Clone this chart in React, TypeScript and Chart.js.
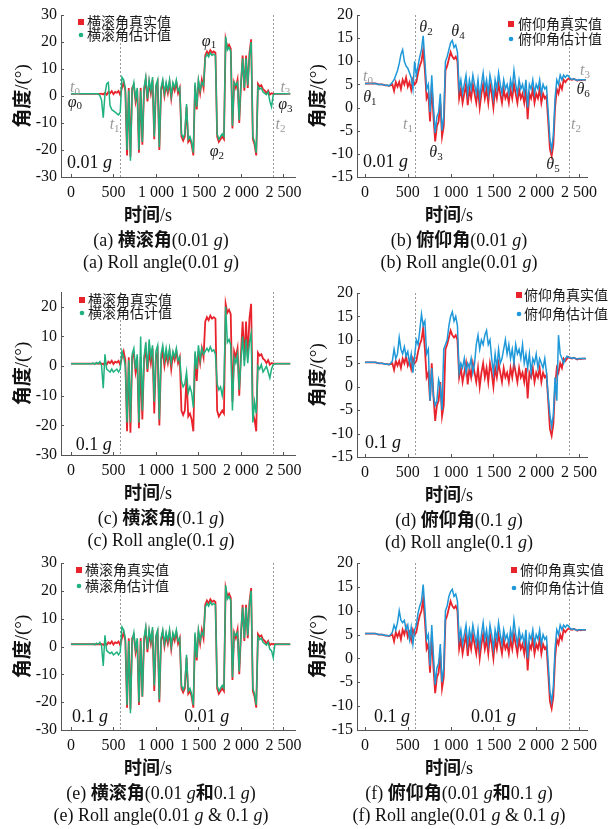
import React, { useEffect, useRef } from 'react';
import { Chart, registerables } from 'chart.js';

Chart.register(...registerables);

// ---------- data ----------
const STEP = 20; // s between samples
const times: number[] = Array.from({ length: 130 }, (_, i) => i * STEP);

const xTickValues = [0, 500, 1000, 1500, 2000, 2500];
const xTickLabels = ['0', '500', '1 000', '1 500', '2 000', '2 500'];
const rollTicks = [-30, -20, -10, 0, 10, 20, 30];
const rollTicksShort = [-30, -20, -10, 0, 10, 20];
const pitchTicks = [-15, -10, -5, 0, 5, 10, 15, 20];
const markerTimes = [580, 2380];

const rollTrue = [
  0.8, 0.8, 0.8, 0.8, 0.8, 0.8, 0.8, 0.8, 0.8, 0.8,
  0.8, 0.8, 0.8, 0.8, 0.8, 0.8, 0.8, 0.8, 0.9, 0.6,
  1.2, 0.5, 1.5, 1.0, 1.8, 0.7, 1.5, 1.2, 1.8, 0.4,
  3, 5, 2, -22, 3, -22.5, 3, 4, -2, 2,
  -21, 3, -18, 2, 6, -2, 5, 1, 6, -16,
  3, 5, -20, 2, 5, 0, 4, 1, 5, -1,
  4, 2, 5, 1, 3, -15, -16.5, -15, -4, -17,
  -16, -18, -22, 4, -5, 5, 1, 6, 3, 15,
  16.5, 15.5, 17, 16, 16.5, 16, -15, -17, -16, -15,
  -16, 21, 18, 19, 17.5, -12, 5, 3, 6, -10,
  4, 15, 2, 15, 3, 16, 21, -16, -18, -22,
  4.5, 3.5, 4, 2.5, 2, 1, 2, 0.5, 1, 0.8,
  0.8, 0.8, 0.8, 0.8, 0.8, 0.8, 0.8, 0.8, 0.8, 0.8,
];

const rollEst001 = [
  0.8, 0.8, 0.8, 0.8, 0.8, 0.8, 0.8, 0.8, 0.8, 0.8,
  0.8, 0.8, 0.8, 0.8, 0.8, 0.8, 0.8, 0.2, -1.5, -8,
  0.5, 4.5, 5, -3.5, -5, -5.5, -6, -6.5, -7, -6,
  7, 6, 3, -20, 2, -24, 2, 5, -1, 3,
  -20, 2, -17, 3, 7, -1, 6, 2, 7, -15,
  4, 6, -19, 3, 6, 1, 5, 2, 6, 0,
  5, 3, 6, 2, 3, -14, -15.5, -14, -3, -16,
  -15, -17, -21, 5, -4, 6, 2, 5, 4, 14,
  15.5, 14.5, 16, 15, 15.5, 15, -14, -16, -15, -14,
  -15, 22, 17, 18, 16.5, -11, 5, 4, 5, -9,
  5, 14, 3, 14, 4, 15, 20, -15, -17, -21,
  3.5, 2.5, 3, 1.5, 1, 0.5, 1.5, -2, -4, 0.5,
  0.8, 0.8, 0.8, 0.8, 0.8, 0.8, 0.8, 0.8, 0.8, 0.8,
];

const rollEst01 = [
  0.8, 0.8, 0.8, 0.8, 0.8, 0.8, 0.8, 0.8, 0.8, 0.8,
  0.8, 0.8, 0.8, 1.0, 0.6, 1.2, 0.8, 1.5, 0.2, -7.5,
  4, -1, -1.5, -2, -1, -2, -1.5, -1, -2, -1,
  5, 3, 0, -19, 2, -19, 4, 6, -1, 4,
  -19, 10, -15, 3, 8, -1, 9, 3, 7, -12,
  5, 7, -18, 4, 7, 2, 6, 2, 6, 1,
  5, 3, 6, 2, 3, -5, -7, -6, -2, -9,
  -7, -9, -14, 5, -1, 7, 2, 6, 4, 5,
  6, 5, 6.5, 5, 5.5, 4, -6, -8, -7, -10,
  -6, 20, 8, 9, 7, -15, 3, 1, 4, -8,
  2, 10, 0, 9, 1, 8, 11, -19, -12, -16,
  0, -1, 0.5, -2, -1, 0, -2, -4, -1, 0.5,
  0.8, 0.8, 0.8, 0.8, 0.8, 0.8, 0.8, 0.8, 0.8, 0.8,
];

const rollEstMix = [
  0.8, 0.8, 0.8, 0.8, 0.8, 0.8, 0.8, 0.8, 0.8, 0.8,
  0.8, 0.8, 0.8, 1.0, 0.6, 1.2, 0.8, 1.5, 0.3, -7,
  4, -1.5, -2, -2.5, -2, -3, -2.5, -2, -3, -2,
  7, 6, 3, -21, 2, -24, 2, 5, -1, 3,
  -20, 2, -18, 3, 7, -1, 6, 2, 7, -14,
  4, 6, -19, 3, 6, 1, 5, 2, 6, 0,
  5, 3, 6, 2, 3, -14, -15.5, -14, -3, -16,
  -15, -17, -21, 5, -4, 6, 2, 5, 4, 14,
  15.5, 14.5, 16, 15, 15.5, 15, -14, -16, -15, -14,
  -15, 22, 17, 18, 16.5, -11, 5, 4, 5, -9,
  5, 14, 3, 14, 4, 15, 20, -15, -17, -21,
  3.5, 2.5, 3, 1.5, 1, 0.5, 1.5, -1, -1.5, -4,
  0.8, 0.8, 0.8, 0.8, 0.8, 0.8, 0.8, 0.8, 0.8, 0.8,
];

const pitchTrue = [
  5.2, 5.2, 5.2, 5.2, 5.2, 5.2, 5.2, 5.1, 5.0, 5.0,
  5.0, 4.9, 4.8, 4.8, 4.7, 4.8, 5.0, 3.6, 5.5, 4.5,
  5.5, 4.0, 6.0, 5.0, 6.5, 4.5, 5.5, 3.8, 6.0, 5.0,
  5.5, 7.5, 9, 10, 12.5, 8, 2, 3, -3, 5,
  -2, -7.3, -4, -3, 1, -6.3, -4, 8, 9, 10.5,
  12, 11, 10.5, 11, 10, 2, 4, 1, 3, 5,
  0.5, 4, 2, 5, 3, 1, 4, 0, 3, 5,
  2, 4, 1, 5, 3, 0, 4, 2, 5, 3,
  1, 4, 2, 3, 1, 4, 2, 5, 3, 1,
  4, 2, 3, 1, 4, -2.5, 3, 2, 4, 1,
  3, 2, 4, 1, 3, 2, 2.5, -3, -9, -10.5,
  -8, 0, 4, 3, 5, 4, 6, 5.5, 6, 6.3,
  6.1, 6.0, 6.2, 6.0, 5.8, 6.0, 5.9, 6.0, 6.0, 6.0,
];

const pitchEst001 = [
  5.2, 5.2, 5.2, 5.2, 5.2, 5.2, 5.2, 5.1, 5.0, 5.0,
  5.0, 4.9, 4.8, 4.8, 4.7, 5.0, 5.5, 6.0, 7.0, 8.0,
  9.5, 11.5, 12.5, 10, 9, 8.5, 7.5, 6.5, 4, 10,
  7, 9, 11, 12.5, 15.5, 10, 4, 5, -1, 7,
  0, -5.5, -2, -1, 3, -5, -2, 10, 11, 12.5,
  14, 14.5, 13, 13.5, 12, 4, 6, 3, 5, 7,
  3, 6, 4, 7, 5, 3, 6, 2, 5, 7.5,
  4, 6, 3, 7, 5, 2, 6, 4, 7.5, 5,
  3, 6, 4, 5, 3, 6, 4, 8, 5, 3,
  6, 4, 5, 3, 6, 0, 5, 4, 6, 3,
  5, 4, 6, 3, 5, 4, 4.5, -1, -7, -9,
  -6, 2, 6, 5, 7, 6, 7, 6.5, 7, 6.8,
  6.2, 6.1, 6.2, 6.0, 5.9, 6.0, 6.0, 6.0, 6.0, 6.0,
];

const pitchEst01 = [
  5.2, 5.2, 5.2, 5.2, 5.2, 5.2, 5.2, 5.1, 5.0, 5.0,
  5.0, 4.9, 4.8, 4.8, 4.7, 5.0, 5.5, 8.0, 6.0, 7.0,
  10.5, 8, 7, 8.5, 6.5, 7.5, 5, 7, 3, 6.5,
  10, 9, 12, 15.5, 13, 14, 7, 8, -3, 4,
  -2, -4, -3, 1.5, 0, -5, 8, 9, 10, 13,
  15, 16, 14, 15, 13, 3, 5, 4, 6, 3,
  5, 4, 6, 3, 5, 9, 11, 8, 10, 9,
  11, 12, 9, 10, 6, 3, 7, 4, 8, 5,
  6, 8, 10, 7, 9, 6, 8, 5, 9, 7,
  8, 6, 9, 5, 7, 4, 7, 3, 6, 5,
  7, 4, 6, 5, 4, 6, 3, -2, -6, -8.5,
  -6, 2, -3, 11, 7, 6, 5, 6, 6.5, 6.3,
  6.2, 6.1, 6.2, 6.0, 5.9, 6.0, 6.0, 6.0, 6.0, 6.0,
];

const pitchEstMix = [
  5.2, 5.2, 5.2, 5.2, 5.2, 5.2, 5.2, 5.1, 5.0, 5.0,
  5.0, 4.9, 4.8, 4.8, 4.7, 5.0, 5.5, 7.0, 6.0, 7.5,
  10, 8, 7.5, 8, 6, 7, 4, 6.5, 3, 6,
  7, 9.5, 11, 12, 15.5, 10.5, 4, 5, -1.5, 7,
  0.5, -5.5, -2, -1, 3, -5, -2, 10, 11, 13,
  14, 14.5, 13, 13.5, 12, 4, 6, 3, 5, 7,
  3, 6, 4, 7, 5, 3, 6, 2, 5, 7.5,
  4, 6, 3, 7, 5, 2, 6, 4, 7.5, 5,
  3, 6, 4, 5, 3, 6, 4, 8, 5, 3,
  6, 4, 5, 3, 6, 0, 5, 4, 6, 3,
  5, 4, 6, 3, 5, 4, 4.5, -1, -7, -9,
  -6, 2, 6, 5, 7, 6, 7, 6.5, 7, 6.8,
  6.2, 6.1, 6.2, 6.0, 5.9, 6.0, 6.0, 6.0, 6.0, 6.0,
];

// ---------- style ----------
const SERIF = '"Liberation Serif", "Times New Roman", serif';
const CJK = '"Noto Sans CJK SC", sans-serif';
const RED = '#e8232b';
const GREEN = '#1fb27e';
const BLUE = '#1e98d8';
const GRAY = '#9a9a9a';
const AXIS = '#555555';

type Ann = { t: number; v: number; main: string; sub: string; gray?: boolean };
type GLab = { t: number; v: number; text: string };
type Legend = { mx: number; y1: number; y2: number; tx: number };
type PanelCfg = {
  col: number; T: number; B: number; ymin: number; ymax: number; yTicks: number[];
  trueData: number[]; estData: number[]; estColor: string; trueLabel: string; estLabel: string;
  legend: Legend; anns: Ann[]; gLabels: GLab[];
};

const COLS = [
  { x0: 0, L: 61, R: 297, xmin: -117, xmax: 2640, titleX: 22, capX: 161, axisTitleX: 148 },
  { x0: 308, L: 357, R: 587, xmin: -93, xmax: 2593, titleX: 317, capX: 459, axisTitleX: 449 },
];

const annA: Ann[] = [
  { t: 47, v: 3.0, main: 't', sub: '0', gray: true },
  { t: 47, v: -2.4, main: 'φ', sub: '0' },
  { t: 514, v: -10.7, main: 't', sub: '1', gray: true },
  { t: 1624, v: 20.2, main: 'φ', sub: '1' },
  { t: 1717, v: -20.7, main: 'φ', sub: '2' },
  { t: 2465, v: -10.7, main: 't', sub: '2', gray: true },
  { t: 2523, v: 3.0, main: 't', sub: '3', gray: true },
  { t: 2523, v: -3.3, main: 'φ', sub: '3' },
];
const annB: Ann[] = [
  { t: 35, v: 6.6, main: 't', sub: '0', gray: true },
  { t: 58, v: 2.1, main: 'θ', sub: '1' },
  { t: 713, v: 17.2, main: 'θ', sub: '2' },
  { t: 1086, v: 16.3, main: 'θ', sub: '4' },
  { t: 830, v: -9.8, main: 'θ', sub: '3' },
  { t: 2196, v: -12.4, main: 'θ', sub: '5' },
  { t: 502, v: -3.8, main: 't', sub: '1', gray: true },
  { t: 2465, v: -3.8, main: 't', sub: '2', gray: true },
  { t: 2570, v: 7.9, main: 't', sub: '3', gray: true },
  { t: 2547, v: 3.8, main: 'θ', sub: '6' },
];

const panels: PanelCfg[] = [
  { col: 0, T: 15, B: 177, ymin: -30, ymax: 30, yTicks: rollTicks, trueData: rollTrue, estData: rollEst001, estColor: GREEN,
    trueLabel: '横滚角真实值', estLabel: '横滚角估计值', legend: { mx: 81, y1: 22, y2: 35, tx: 87 }, anns: annA,
    gLabels: [{ t: -47, v: -26.7, text: '0.01' }] },
  { col: 1, T: 15, B: 177, ymin: -15, ymax: 20, yTicks: pitchTicks, trueData: pitchTrue, estData: pitchEst001, estColor: BLUE,
    trueLabel: '俯仰角真实值', estLabel: '俯仰角估计值', legend: { mx: 511, y1: 24, y2: 39, tx: 518 }, anns: annB,
    gLabels: [{ t: -23, v: -12.8, text: '0.01' }] },
  { col: 0, T: 292, B: 455, ymin: -30, ymax: 25, yTicks: rollTicksShort, trueData: rollTrue, estData: rollEst01, estColor: GREEN,
    trueLabel: '横滚角真实值', estLabel: '横滚角估计值', legend: { mx: 82, y1: 300, y2: 313, tx: 88 }, anns: [],
    gLabels: [{ t: 58, v: -28.3, text: '0.1' }] },
  { col: 1, T: 293, B: 457, ymin: -15, ymax: 20, yTicks: pitchTicks, trueData: pitchTrue, estData: pitchEst01, estColor: BLUE,
    trueLabel: '俯仰角真实值', estLabel: '俯仰角估计值', legend: { mx: 519, y1: 295, y2: 314, tx: 524 }, anns: [],
    gLabels: [{ t: 0, v: -13.1, text: '0.1' }] },
  { col: 0, T: 563, B: 730, ymin: -30, ymax: 30, yTicks: rollTicks, trueData: rollTrue, estData: rollEstMix, estColor: GREEN,
    trueLabel: '横滚角真实值', estLabel: '横滚角估计值', legend: { mx: 79, y1: 570, y2: 586, tx: 85 }, anns: [],
    gLabels: [{ t: 12, v: -27.1, text: '0.1' }, { t: 1332, v: -27.1, text: '0.01' }] },
  { col: 1, T: 563, B: 730, ymin: -15, ymax: 20, yTicks: pitchTicks, trueData: pitchTrue, estData: pitchEstMix, estColor: BLUE,
    trueLabel: '俯仰角真实值', estLabel: '俯仰角估计值', legend: { mx: 514, y1: 570, y2: 588, tx: 520 }, anns: [],
    gLabels: [{ t: 105, v: -13.3, text: '0.1' }, { t: 1238, v: -13.3, text: '0.01' }] },
];

const captions = [
  { letter: 'a', cn: '横滚角', par: '0.01' },
  { letter: 'b', cn: '俯仰角', par: '0.01' },
  { letter: 'c', cn: '横滚角', par: '0.1' },
  { letter: 'd', cn: '俯仰角', par: '0.1' },
  { letter: 'e', cn: '横滚角', par: 'mix' },
  { letter: 'f', cn: '俯仰角', par: 'mix' },
];

const TOP_PAD = 15;
const XAXIS_H = 28;

function Panel({ cfg }: { cfg: PanelCfg }) {
  const ref = useRef<HTMLCanvasElement>(null);
  const col = COLS[cfg.col];
  const y0 = cfg.T - TOP_PAD;
  const h = cfg.B - y0 + XAXIS_H;

  useEffect(() => {
    const canvas = ref.current;
    if (!canvas) return;
    const deco = {
      id: 'deco',
      beforeDatasetsDraw(chart: any) {
        const ctx = chart.ctx;
        const xs = chart.scales.x;
        const a = chart.chartArea;
        ctx.save();
        ctx.strokeStyle = GRAY;
        ctx.lineWidth = 1;
        ctx.setLineDash([2, 2]);
        markerTimes.forEach((t) => {
          const px = Math.round(xs.getPixelForValue(t)) + 0.5;
          ctx.beginPath();
          ctx.moveTo(px, a.top);
          ctx.lineTo(px, a.bottom);
          ctx.stroke();
        });
        ctx.restore();
      },
      afterDraw(chart: any) {
        const ctx = chart.ctx;
        const xs = chart.scales.x;
        const ys = chart.scales.y;
        const a = chart.chartArea;
        ctx.save();
        // inward ticks
        ctx.strokeStyle = AXIS;
        ctx.lineWidth = 1;
        xTickValues.forEach((v) => {
          const px = Math.round(xs.getPixelForValue(v)) + 0.5;
          ctx.beginPath();
          ctx.moveTo(px, a.bottom);
          ctx.lineTo(px, a.bottom - 3);
          ctx.stroke();
        });
        cfg.yTicks.forEach((v) => {
          const py = Math.round(ys.getPixelForValue(v)) + 0.5;
          ctx.beginPath();
          ctx.moveTo(a.left, py);
          ctx.lineTo(a.left + 3, py);
          ctx.stroke();
        });
        // legend
        const lg = cfg.legend;
        ctx.fillStyle = RED;
        ctx.fillRect(lg.mx - col.x0 - 3, lg.y1 - y0 - 3, 6, 6);
        ctx.fillStyle = cfg.estColor;
        ctx.beginPath();
        ctx.arc(lg.mx - col.x0, lg.y2 - y0, 2.3, 0, Math.PI * 2);
        ctx.fill();
        ctx.fillStyle = '#1a1a1a';
        ctx.font = `14px ${CJK}`;
        ctx.textAlign = 'left';
        ctx.textBaseline = 'middle';
        ctx.fillText(cfg.trueLabel, lg.tx - col.x0, lg.y1 - y0);
        ctx.fillText(cfg.estLabel, lg.tx - col.x0, lg.y2 - y0);
        // annotations
        cfg.anns.forEach((an) => {
          const x = xs.getPixelForValue(an.t);
          const y = ys.getPixelForValue(an.v);
          const fMain = `italic 16px ${SERIF}`;
          const fSub = `11px ${SERIF}`;
          ctx.font = fMain;
          const wm = ctx.measureText(an.main).width;
          ctx.font = fSub;
          const ws = ctx.measureText(an.sub).width;
          const sx = x - (wm + ws) / 2;
          ctx.fillStyle = an.gray ? GRAY : '#1a1a1a';
          ctx.textBaseline = 'middle';
          ctx.font = fMain;
          ctx.fillText(an.main, sx, y);
          ctx.font = fSub;
          ctx.fillText(an.sub, sx + wm, y + 4);
        });
        // g-level labels
        cfg.gLabels.forEach((gl) => {
          const x = xs.getPixelForValue(gl.t);
          const y = ys.getPixelForValue(gl.v);
          ctx.fillStyle = '#111';
          ctx.textBaseline = 'alphabetic';
          ctx.font = `18px ${SERIF}`;
          const txt = gl.text + ' ';
          ctx.fillText(txt, x, y);
          const w = ctx.measureText(txt).width;
          ctx.font = `italic 18px ${SERIF}`;
          ctx.fillText('g', x + w, y);
        });
        // y title
        ctx.translate(col.titleX - col.x0, (cfg.T + cfg.B) / 2 - y0);
        ctx.rotate(-Math.PI / 2);
        const p1 = '角度';
        const p2 = '/(°)';
        const f1 = `bold 19px ${CJK}`;
        const f2 = `19px ${SERIF}`;
        ctx.font = f1;
        const w1 = ctx.measureText(p1).width;
        ctx.font = f2;
        const w2 = ctx.measureText(p2).width;
        const st = -(w1 + w2) / 2;
        ctx.fillStyle = '#111';
        ctx.textBaseline = 'middle';
        ctx.font = f1;
        ctx.fillText(p1, st, 0);
        ctx.font = f2;
        ctx.fillText(p2, st + w1, 1);
        ctx.restore();
      },
    };

    const chart = new Chart(canvas, {
      type: 'line',
      data: {
        datasets: [
          {
            label: cfg.trueLabel,
            data: times.map((t, i) => ({ x: t, y: cfg.trueData[i] })),
            borderColor: RED,
            borderWidth: 1.8,
            pointRadius: 0,
            tension: 0,
            order: 2,
          },
          {
            label: cfg.estLabel,
            data: times.map((t, i) => ({ x: t, y: cfg.estData[i] })),
            borderColor: cfg.estColor,
            borderWidth: 1.5,
            pointRadius: 0,
            tension: 0,
            order: 1,
          },
        ],
      },
      options: {
        responsive: false,
        animation: false,
        events: [],
        layout: { padding: { left: 0, right: col.x0 + 308 - col.R, top: TOP_PAD, bottom: 0 } },
        plugins: { legend: { display: false }, tooltip: { enabled: false } },
        scales: {
          x: {
            type: 'linear',
            min: col.xmin,
            max: col.xmax,
            afterBuildTicks: (s: any) => { s.ticks = xTickValues.map((v) => ({ value: v })); },
            afterFit: (s: any) => { s.height = XAXIS_H; },
            grid: { display: false, drawTicks: false },
            border: { display: true, color: AXIS, width: 1 },
            ticks: {
              padding: 6,
              color: '#111',
              maxRotation: 0,
              autoSkip: false,
              font: { family: SERIF, size: 16 },
              callback: (v: any) => { const i = xTickValues.indexOf(Number(v)); return i >= 0 ? xTickLabels[i] : ''; },
            },
          },
          y: {
            type: 'linear',
            min: cfg.ymin,
            max: cfg.ymax,
            afterBuildTicks: (s: any) => { s.ticks = cfg.yTicks.map((v) => ({ value: v })); },
            afterFit: (s: any) => { s.width = col.L - col.x0; },
            grid: { display: false, drawTicks: false },
            border: { display: true, color: AXIS, width: 1 },
            ticks: {
              padding: 4,
              color: '#111',
              autoSkip: false,
              font: { family: SERIF, size: 16 },
              callback: (v: any) => String(v),
            },
          },
        },
      },
      plugins: [deco],
    } as any);
    return () => chart.destroy();
  }, []);

  return (
    <canvas
      ref={ref}
      width={308}
      height={h}
      style={{ position: 'absolute', left: col.x0, top: y0, width: 308, height: h }}
    />
  );
}

function TextLine({ cx, cy, size, children }: { cx: number; cy: number; size: number; children: any }) {
  const lh = Math.round(size * 1.3);
  return (
    <div
      style={{
        position: 'absolute', left: cx - 200, width: 400, top: cy - lh / 2, height: lh,
        lineHeight: `${lh}px`, textAlign: 'center', fontFamily: SERIF, fontSize: size,
        color: '#111', whiteSpace: 'nowrap',
      }}
    >
      {children}
    </div>
  );
}

const cjkBold = { fontFamily: CJK, fontWeight: 700 } as const;

function Captions({ cfg, idx }: { cfg: PanelCfg; idx: number }) {
  const col = COLS[cfg.col];
  const c = captions[idx];
  const gi = <i>g</i>;
  const cnPar = c.par === 'mix'
    ? (<>(0.01 {gi}<span style={cjkBold}>和</span>0.1 {gi})</>)
    : (<>({c.par} {gi})</>);
  const enPar = c.par === 'mix' ? (<>(0.01 {gi} &amp; 0.1 {gi})</>) : (<>({c.par} {gi})</>);
  return (
    <>
      <TextLine cx={col.axisTitleX} cy={cfg.B + 36} size={18}>
        <span style={cjkBold}>时间</span>/s
      </TextLine>
      <TextLine cx={col.capX} cy={cfg.B + 61} size={18}>
        ({c.letter}) <span style={cjkBold}>{c.cn}</span>{cnPar}
      </TextLine>
      <TextLine cx={col.capX} cy={cfg.B + 85} size={18}>
        ({c.letter}) Roll angle{enPar}
      </TextLine>
    </>
  );
}

export default function App() {
  return (
    <div style={{ position: 'absolute', left: 0, top: 0, width: 616, height: 829, background: '#fff', overflow: 'hidden' }}>
      {panels.map((p, i) => (
        <React.Fragment key={i}>
          <Panel cfg={p} />
          <Captions cfg={p} idx={i} />
        </React.Fragment>
      ))}
    </div>
  );
}
